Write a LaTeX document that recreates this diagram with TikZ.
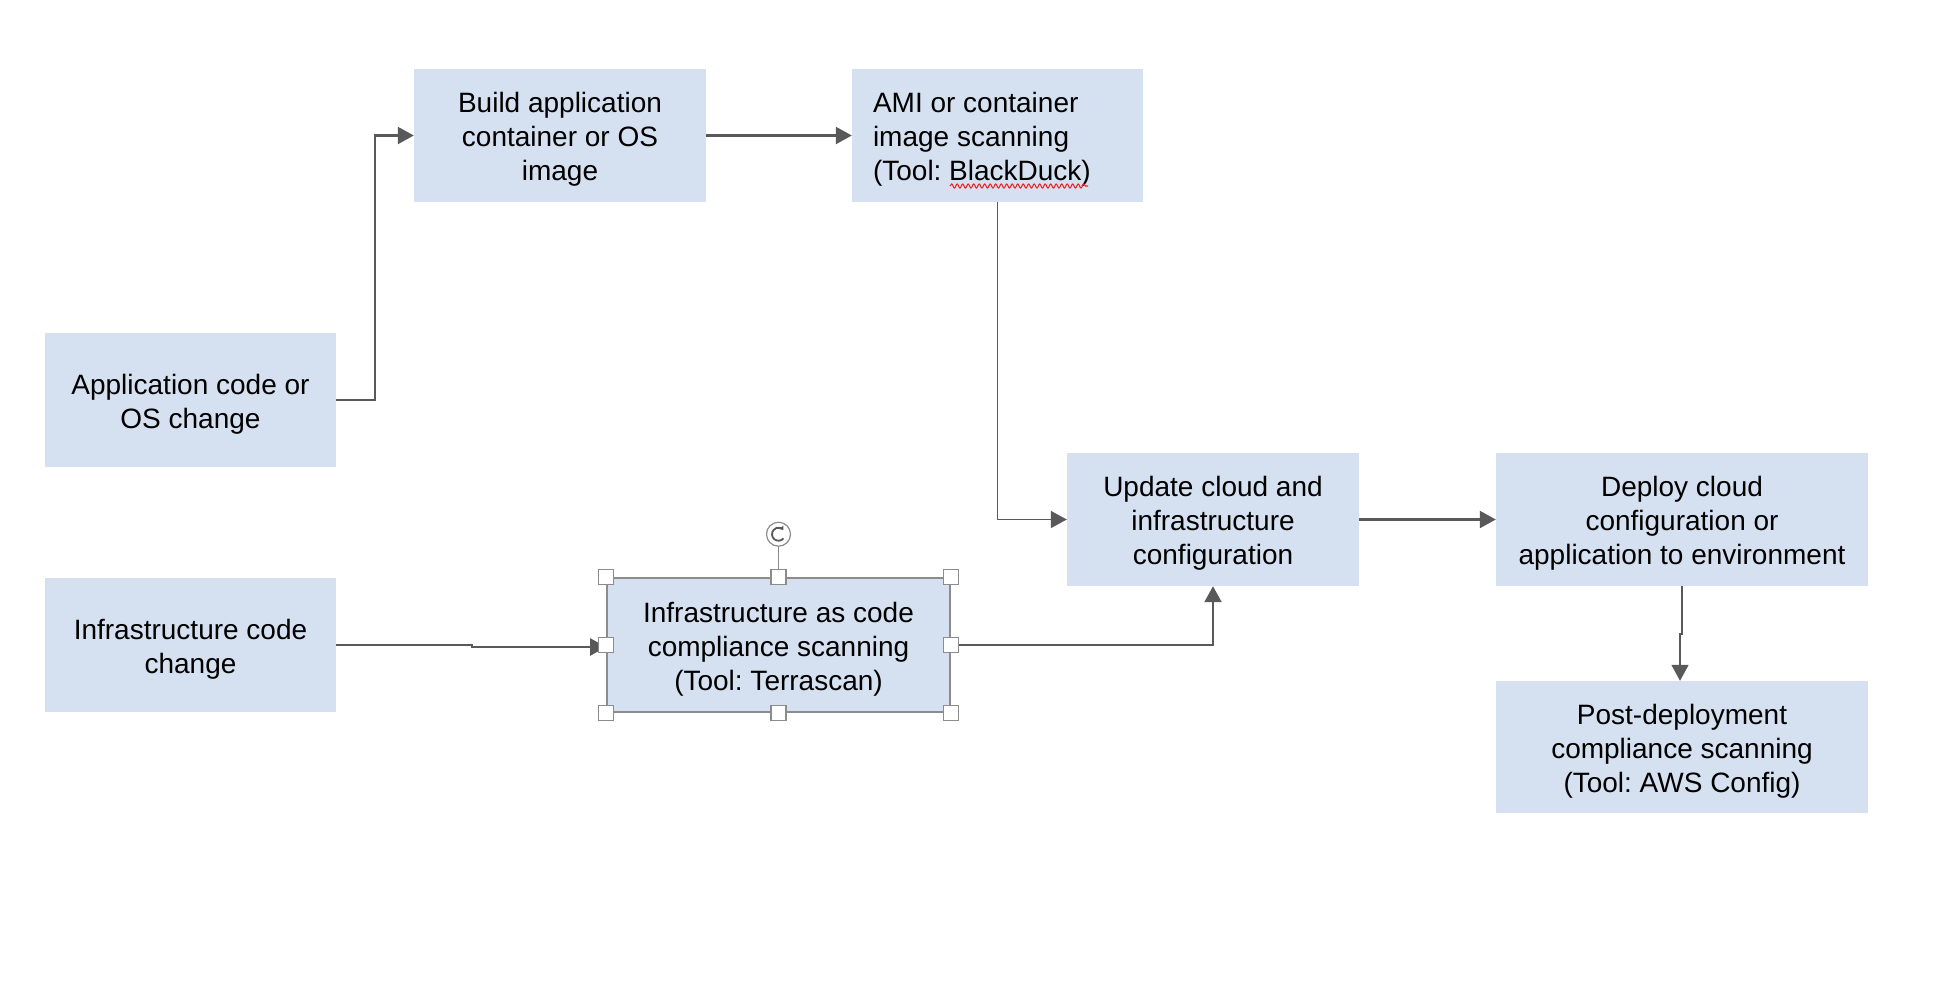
\documentclass[tikz,border=0pt]{standalone}
\usepackage{fontspec}
\setmainfont{Liberation Sans}
\frenchspacing
\usetikzlibrary{arrows.meta,decorations.pathmorphing,calc}
\definecolor{boxfill}{RGB}{213,225,240}
\definecolor{linegray}{RGB}{89,89,89}
\definecolor{handlegray}{RGB}{140,140,140}
\definecolor{spellred}{RGB}{230,40,40}
\tikzset{
  stepbox/.style={rectangle, fill=boxfill, draw=none, inner sep=0pt, minimum height=133pt},
  steptext/.style={inner sep=0pt, align=center, font=\fontsize{28pt}{34pt}\selectfont},
  conn/.style={draw=linegray, line width=2.2pt, -{Triangle[length=16pt,width=17pt]}},
  handle/.style={rectangle, fill=white, draw=handlegray, line width=1.2pt, minimum size=15pt, inner sep=0pt},
}
\begin{document}
\begin{tikzpicture}[x=1pt,y=-1pt]
\useasboundingbox (0,0) rectangle (1934,980);
\fill[white] (0,0) rectangle (1934,980);

\node[stepbox, minimum width=292pt] (build) at (560,135.5) {};
\node[stepbox, minimum width=291pt] (ami) at (997.5,135.5) {};
\node[stepbox, minimum width=291pt, minimum height=134pt] (app) at (190.5,400) {};
\node[stepbox, minimum width=291pt, minimum height=134pt] (infra) at (190.5,645) {};
\node[stepbox, minimum width=343pt, minimum height=134pt, draw=handlegray, line width=1.6pt] (iac) at (778.5,645) {};
\node[stepbox, minimum width=292pt] (update) at (1213,519.5) {};
\node[stepbox, minimum width=372pt] (deploy) at (1682,519.5) {};
\node[stepbox, minimum width=372pt, minimum height=132pt] (post) at (1682,747) {};

\node[steptext] (build-t) at ($(build.center)+(0,4)$) {Build application\\container or OS\\image};
\node[steptext, align=left, anchor=west] (ami-t) at ($(ami.west)+(21,4)$) {AMI or container\\image scanning\\(Tool: BlackDuck)};
\node[steptext] (app-t) at ($(app.center)+(0,4)$) {Application code or\\OS change};
\node[steptext] (infra-t) at ($(infra.center)+(0,4)$) {Infrastructure code\\change};
\node[steptext] (iac-t) at ($(iac.center)+(0,4)$) {Infrastructure as code\\compliance scanning\\(Tool: Terrascan)};
\node[steptext] (update-t) at ($(update.center)+(0,4)$) {Update cloud and\\infrastructure\\configuration};
\node[steptext] (deploy-t) at ($(deploy.center)+(0,4)$) {Deploy cloud\\configuration or\\application to environment};
\node[steptext] (post-t) at ($(post.center)+(0,4)$) {Post-deployment\\compliance scanning\\(Tool: AWS Config)};

% spelling squiggle under BlackDuck
\draw[spellred, line width=1.1pt, decorate, decoration={snake, amplitude=2pt, segment length=5.5pt}] (950,186) -- (1088,186);

% connectors
\draw[conn] (app.east) -- ++(39,0) |- (build.west);
\draw[conn] (build.east) -- (ami.west);
\draw[conn, line width=1.6pt] (ami.south) |- (update.west);
\draw[conn] (update.east) -- (deploy.west);
\draw[conn, line width=1.6pt] (deploy.south) -- ++(0,48) -- ++(-2,0) -- ($(post.north)+(-2,0)$);
\draw[conn] (infra.east) -- ++(136,0) -- ++(0,2) -- ($(iac.west)+(0,2)$);
\draw[conn] (iac.east) -| (update.south);

% selection handles on iac
\coordinate (rot) at ($(iac.north)+(0,-43)$);
\draw[handlegray, line width=1.2pt] (iac.north) -- ($(rot)+(0,12)$);
\node[circle, fill=white, draw=handlegray, line width=1.2pt, minimum size=24pt, inner sep=0pt] (rotc) at (rot) {};
\draw[linegray, line width=1.8pt, -{Triangle[length=3.5pt,width=5pt]}] ($(rot)+(40:6.5)$) arc[start angle=40, end angle=320, radius=6.5];
\node[handle] (h1) at (iac.north west) {};
\node[handle] (h2) at (iac.north) {};
\node[handle] (h3) at (iac.north east) {};
\node[handle] (h4) at (iac.west) {};
\node[handle] (h5) at (iac.east) {};
\node[handle] (h6) at (iac.south west) {};
\node[handle] (h7) at (iac.south) {};
\node[handle] (h8) at (iac.south east) {};
\end{tikzpicture}
\end{document}
